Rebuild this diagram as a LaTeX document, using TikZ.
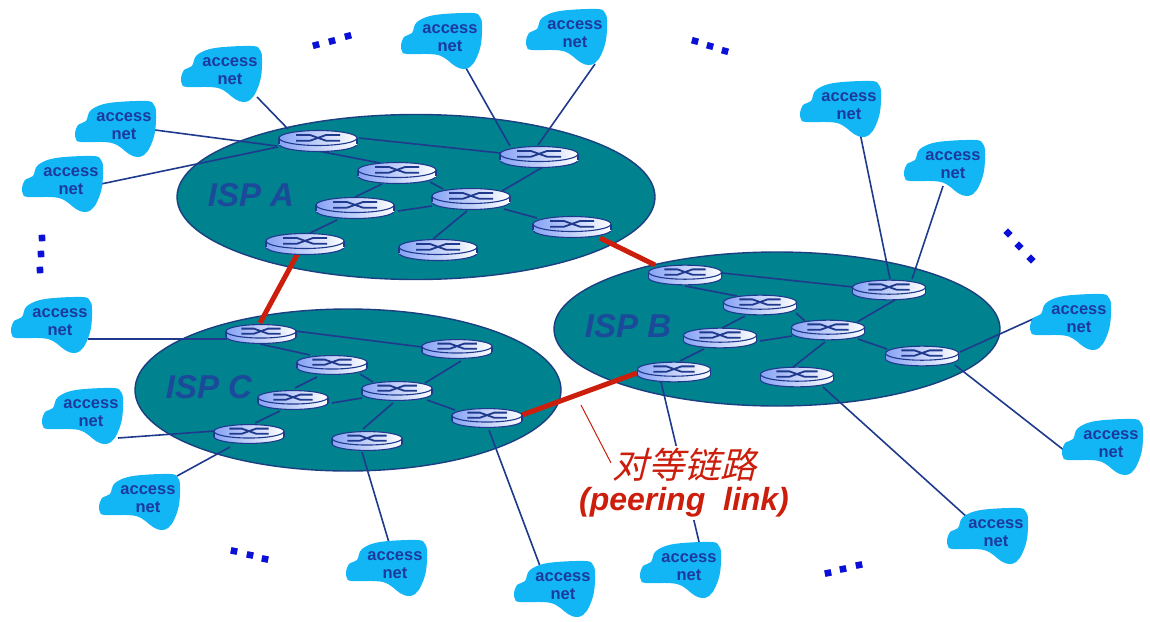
\documentclass[tikz,border=0pt]{standalone}
\usepackage{fontspec}
\setmainfont{Liberation Sans}
\newfontfamily\cjkfont[AutoFakeSlant=0.25]{Noto Sans CJK SC}
\usetikzlibrary{shapes.geometric}
\definecolor{ispfill}{HTML}{00828F}
\definecolor{ispedge}{HTML}{1B3F80}
\definecolor{netline}{HTML}{1F3A8C}
\definecolor{cloudc}{HTML}{12B6F5}
\definecolor{nettext}{HTML}{1C3A9E}
\definecolor{isptext}{HTML}{1B4A9A}
\definecolor{peerred}{HTML}{CC1E0C}
\definecolor{rlight}{HTML}{FFFFFF}
\definecolor{rhalf}{HTML}{D5E0FC}
\definecolor{rmid}{HTML}{86A2F4}
\definecolor{dotc}{HTML}{0A10D8}
\pgfdeclarelayer{isplayer}
\pgfdeclarelayer{linklayer}
\pgfsetlayers{isplayer,linklayer,main}
\tikzset{
  ispshape/.style={fill=ispfill,draw=ispedge,line width=1.4pt},
  link/.style={draw=netline,line width=1.6pt},
  peer/.style={draw=peerred,line width=5pt},
  routernode/.style={ellipse,inner sep=0pt,outer sep=0pt},
  rshade/.style={left color=rmid,middle color=rhalf,right color=rlight,draw=netline,line width=1.1pt},
  rside/.style={left color=rmid,middle color=rhalf,right color=rlight},
  glyph/.style={draw=netline,line width=1.8pt},
  cloudfill/.style={fill=cloudc,draw=none},
  nettxt/.style={align=center,inner sep=0pt,text=nettext,
    font=\fontsize{16.5}{18}\selectfont\bfseries},
  isplabel/.style={text=isptext,inner sep=0pt,
    font=\fontsize{33}{36}\selectfont\bfseries\itshape},
  dotsq/.style={fill=dotc},
}
% \router{name}{x,y}{width}
\newcommand\router[3]{%
  \pgfmathsetmacro\rs{#3/78}%
  \begin{scope}[shift={(#2)},scale=\rs]
    \path[rshade] (0,3) ellipse [x radius=39,y radius=7.5];
    \path[rside] (-39,-3) rectangle (39,3);
    \draw[netline,line width=1.1pt] (-39,-3) -- (-39,3) (39,-3) -- (39,3);
    \path[rshade] (0,-3) ellipse [x radius=39,y radius=7.5];
    \draw[glyph] (-22,-0.3) -- (-8,-0.3) -- (8,-6) -- (22,-6);
    \draw[glyph] (-22,-6) -- (-8,-6) -- (8,-0.3) -- (22,-0.3);
  \end{scope}
  \node[routernode,minimum width=#3pt,minimum height=21pt] (#1) at (#2) {};%
}
% \accessnet{name}{x,y}
\newcommand\accessnet[2]{%
  \path[cloudfill,shift={(#2)}] plot[smooth cycle,tension=.6] coordinates
    {(-49,8) (-46,0) (-38,-4) (-33,-15) (-15,-22) (22,-24) (30,-20) (32,-12) (31,7) (26,22) (20,30) (13,32) (5,29) (-12,18) (-43,17) (-48,14)};
  \node[nettxt,yshift=-1pt] (#1) at (#2) {access\\net};%
}
% \dotrow{x1,y1}{x2,y2}{x3,y3}{angle}
\newcommand\dotrow[4]{%
  \foreach \p in {{#1},{#2},{#3}}{
    \fill[dotsq,shift={(\p)},rotate=#4] (-3.3,-3.3) rectangle (3.3,3.3);
  }%
}
% \lnk{node}{dx,dy}{node}{dx,dy}
\newcommand\lnk[4]{\draw[link] ([shift={(#2)}]#1.center) -- ([shift={(#4)}]#3.center);}
\newcommand\peerlnk[4]{\draw[peer] ([shift={(#2)}]#1.center) -- ([shift={(#4)}]#3.center);}
\begin{document}
\begin{tikzpicture}[x=1pt,y=-1pt]
\useasboundingbox (0,0) rectangle (1150,621);
\begin{pgfonlayer}{isplayer}
  \node[ispshape,ellipse,minimum width=478pt,minimum height=165pt,inner sep=0pt] (ispA) at (416,197) {};
  \node[ispshape,ellipse,minimum width=446pt,minimum height=154pt,inner sep=0pt] (ispB) at (777,329) {};
  \node[ispshape,ellipse,minimum width=426pt,minimum height=162pt,inner sep=0pt] (ispC) at (348,390) {};
\end{pgfonlayer}
\node[isplabel] (la) at (251,195) {ISP A};
\node[isplabel] (lb) at (628,326) {ISP B};
\node[isplabel] (lc) at (209,387) {ISP C};
% routers
\router{a1}{318,141}{78}
\router{a2}{539,157}{78}
\router{a3}{397,173}{78}
\router{a4}{355,208}{78}
\router{a5}{471,199}{78}
\router{a6}{572,227}{78}
\router{a7}{305,244}{78}
\router{a8}{438,250}{78}
\router{b1}{685,275}{73}
\router{b2}{889,290}{73}
\router{b3}{760,305}{73}
\router{b4}{720,338}{73}
\router{b5}{828,330}{73}
\router{b6}{922,356}{73}
\router{b7}{674,372}{73}
\router{b8}{797,377}{73}
\router{c1}{261,334}{70}
\router{c2}{457,349}{70}
\router{c3}{332,365}{70}
\router{c4}{293,400}{70}
\router{c5}{397,391}{70}
\router{c6}{487,418}{70}
\router{c7}{249,434}{70}
\router{c8}{367,441}{70}
% access nets
\accessnet{n1}{230,70}
\accessnet{n2}{124,125}
\accessnet{n3}{71,180}
\accessnet{n4}{450,37}
\accessnet{n5}{575,33}
\accessnet{n6}{849,105}
\accessnet{n7}{953,164}
\accessnet{n8}{1079,318}
\accessnet{n9}{1111,443}
\accessnet{n10}{996,532}
\accessnet{n11}{689,566}
\accessnet{n12}{563,585}
\accessnet{n13}{395,564}
\accessnet{n14}{148,498}
\accessnet{n15}{91,412}
\accessnet{n16}{60,321}
% label
\node[fill=white,inner sep=2pt,align=center,text=peerred] (peerlabel) at (684,483)
  {{\fontsize{36}{38}\selectfont\cjkfont\itshape 对等链路}\\[5pt]
   {\fontsize{32}{34}\selectfont\bfseries\itshape (peering\ \ link)}};
\coordinate (leadfrom) at (581,405);
\coordinate (leadto) at (611,463);
\draw[draw=peerred,line width=1pt] (leadfrom) -- (leadto);
\begin{pgfonlayer}{linklayer}
  \lnk{a1}{41,-3}{a2}{-39,-4}
  \lnk{a1}{0,10}{a3}{-17,-10}
  \lnk{a3}{33,9}{a5}{-28,-10}
  \lnk{a3}{-15,11}{a4}{0,-11}
  \lnk{a2}{4,10}{a5}{31,-8}
  \lnk{a5}{-39,7}{a4}{43,3}
  \lnk{a5}{33,10}{a6}{-35,-9}
  \lnk{a5}{-4,12}{a8}{-5,-11}
  \lnk{a4}{-18,12}{a7}{5,-11}
  \lnk{b1}{37,-2}{b2}{-36,-3}
  \lnk{b1}{0,11}{b3}{-23,-9}
  \lnk{b3}{36,8}{b5}{-23,-9}
  \lnk{b3}{-15,11}{b4}{2,-10}
  \lnk{b2}{6,10}{b5}{29,-8}
  \lnk{b5}{-36,6}{b4}{40,3}
  \lnk{b5}{30,9}{b6}{-35,-7}
  \lnk{b5}{-3,12}{b8}{-4,-10}
  \lnk{b4}{-16,11}{b7}{6,-11}
  \lnk{c1}{34,-3}{c2}{-35,-2}
  \lnk{c1}{-1,10}{c3}{-22,-10}
  \lnk{c3}{28,9}{c5}{-24,-9}
  \lnk{c3}{-15,12}{c4}{2,-12}
  \lnk{c2}{4,12}{c5}{28,-8}
  \lnk{c5}{-35,7}{c4}{39,3}
  \lnk{c5}{30,9}{c6}{-32,-8}
  \lnk{c5}{-4,12}{c8}{-4,-12}
  \lnk{c4}{-13,11}{c7}{6,-11}
  \lnk{n1}{27,26}{a1}{-30,-12}
  \lnk{n2}{31,4}{a1}{-41,5}
  \lnk{n3}{30,3}{a1}{-40,6}
  \lnk{n4}{12,23}{a2}{-29,-11}
  \lnk{n5}{20,30}{a2}{-1,-12}
  \lnk{n6}{11,27}{b2}{1,-11}
  \lnk{n7}{-10,21}{b2}{23,-11}
  \lnk{n8}{-46,0}{b6}{38,-4}
  \lnk{n9}{-46,7}{b6}{33,9}
  \lnk{n10}{-28,-15}{b8}{26,10}
  \lnk{n11}{11,-21}{b7}{-13,10}
  \lnk{n12}{-23,-20}{c6}{2,12}
  \lnk{n13}{-5,-19}{c8}{-5,11}
  \lnk{n14}{29,-23}{c7}{-19,13}
  \lnk{n15}{27,25}{c7}{-34,-3}
  \lnk{n16}{28,17}{c1}{-34,5}
  \peerlnk{a7}{-7,9}{c1}{-1,-11}
  \peerlnk{a6}{28,11}{b1}{-30,-10}
  \peerlnk{c6}{35,-3}{b7}{-37,1}
\end{pgfonlayer}
% dots
\dotrow{316,45}{332,41}{348,36}{15}
\dotrow{695,41}{710,46}{725,51}{-15}
\dotrow{42,238}{41,254}{40,270}{3}
\dotrow{1008,233}{1019,246}{1031,259}{-45}
\dotrow{234,551}{250,555}{265,559}{-12}
\dotrow{828,573}{843,569}{859,565}{12}
\end{tikzpicture}
\end{document}
